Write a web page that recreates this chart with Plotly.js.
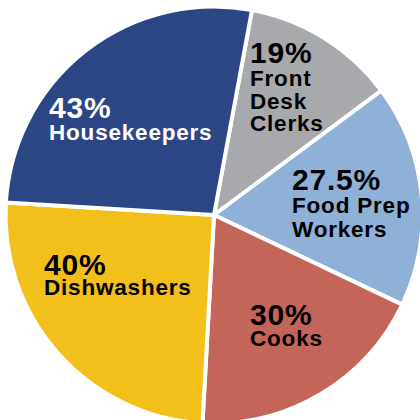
<!DOCTYPE html>
<html>
<head>
<meta charset="utf-8">
<script src="https://cdn.plot.ly/plotly-3.0.1.min.js"></script>
<style>
  html, body { margin: 0; padding: 0; overflow: hidden; background: #fff; }
  #chart { width: 430px; height: 430px; }
  .annotation-text { letter-spacing: 0.8px; }
</style>
</head>
<body>
<div id="chart"></div>
<script>
// Data
const categories = ["Front Desk Clerks", "Food Prep Workers", "Cooks", "Dishwashers", "Housekeepers"];
const values = [19, 27.5, 30, 40, 43];
const pctLabels = ["19%", "27.5%", "30%", "40%", "43%"];
const nameLines = [["Front", "Desk", "Clerks"], ["Food Prep", "Workers"], ["Cooks"], ["Dishwashers"], ["Housekeepers"]];
const colors = ["#A8A9AC", "#8FB1D7", "#C4655A", "#F2BF1B", "#2B4585"];
const textColors = ["#000000", "#000000", "#000000", "#000000", "#FFFFFF"];

// Label placement (pixels in the 430px canvas: left x, first baseline y, line step)
const labelPos = [[249, 61.7, 22.8], [290.5, 189.3, 23.3], [248.5, 324, 20.6], [42.5, 274.3, 20.4], [47.5, 116.7, 22.3]];

const W = 430, H = 430;
const PCT_SIZE = 30, NAME_SIZE = 22.5, ASCENT = 0.905;
const px = x => x / W;
const py = y => 1 - y / H;

const annotations = [];
for (let i = 0; i < categories.length; i++) {
  const lines = ["<span style='font-size:" + PCT_SIZE + "px'><b>" + pctLabels[i] + "</b></span>"]
    .concat(nameLines[i].map(ln => "<span style='font-size:" + NAME_SIZE + "px'><b>" + ln + "</b></span>"));
  const p = labelPos[i];
  annotations.push({
    text: lines.join("<br>"),
    x: px(p[0]), y: py(p[1] - ASCENT * PCT_SIZE),
    xref: "paper", yref: "paper", xanchor: "left", yanchor: "top", align: "left",
    showarrow: false, borderpad: 0,
    font: { family: "Liberation Sans, Arial, sans-serif", size: p[2] / 1.3, color: textColors[i] }
  });
}

const trace = {
  type: "pie",
  labels: categories,
  values: values,
  sort: false,
  direction: "clockwise",
  rotation: 10.5,
  textinfo: "none",
  hoverinfo: "none",
  marker: { colors: colors, line: { color: "#FFFFFF", width: 4 } },
  domain: { x: [5.5 / W, 422.5 / W], y: [6.5 / H, 423.5 / H] },
  showlegend: false
};

const layout = {
  width: W, height: H,
  margin: { l: 0, r: 0, t: 0, b: 0, pad: 0 },
  paper_bgcolor: "#FFFFFF",
  plot_bgcolor: "#FFFFFF",
  showlegend: false,
  annotations: annotations
};

Plotly.newPlot("chart", [trace], layout, { staticPlot: true, displayModeBar: false });
</script>
</body>
</html>
